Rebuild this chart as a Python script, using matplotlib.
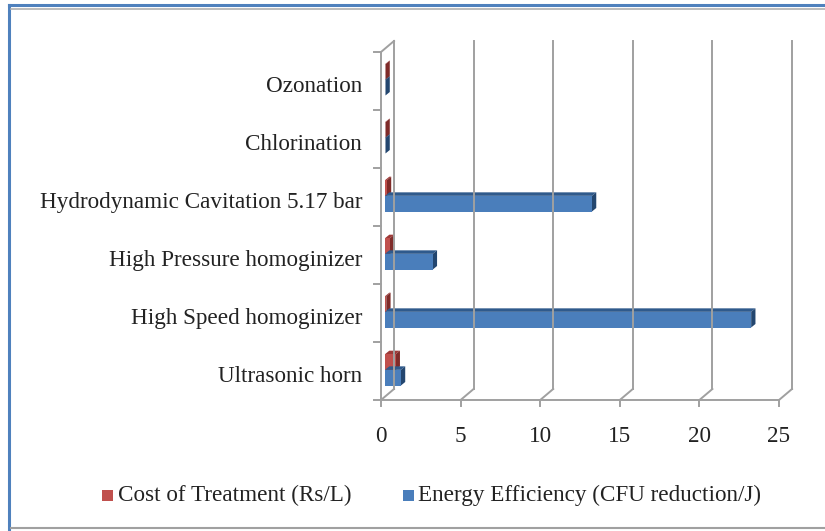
import numpy as np
import matplotlib.pyplot as plt
from matplotlib.patches import Polygon, Rectangle
from matplotlib.lines import Line2D

categories = ['Ultrasonic horn', 'High Speed homoginizer', 'High Pressure homoginizer',
              'Hydrodynamic Cavitation 5.17 bar', 'Chlorination', 'Ozonation']
cost = [0.67, 0.08, 0.31, 0.12, 0.03, 0.03]
energy = [1.0, 23.0, 3.0, 13.0, 0.03, 0.03]
xticks = [0, 5, 10, 15, 20, 25]
series_names = ['Cost of Treatment (Rs/L)', 'Energy Efficiency (CFU reduction/J)']

W, H = 825, 531
fig = plt.figure(figsize=(W / 100, H / 100), dpi=100)
# axes in pixel terms: x 0..25 spans 381..779, y spans 400..52
ax = fig.add_axes([381 / W, 1 - 400 / H, 398 / W, 348 / H])
ax.set_xlim(0, 25)
ax.set_ylim(-0.5, 5.5)
ax.axis('off')

pxx = 398 / 25.0   # pixels per x unit
pxy = 348 / 6.0    # pixels per category
DX, DY = 13 / pxx, 11 / pxy          # wall depth
bx, by = 4.3 / pxx, 3.5 / pxy        # bar depth
x0 = 4 / pxx                         # bars start a bit behind the front plane

grid = '#a0a0a0'
lw = 1.4
ylo, yhi = -0.5, 5.5
font = 'Liberation Serif'
fs = 16.7

# front axes and floor
ax.plot([0, 0], [ylo, yhi], color=grid, lw=lw, clip_on=False)
ax.plot([0, DX], [yhi, yhi + DY], color=grid, lw=lw, clip_on=False)
ax.plot([0, 25], [ylo, ylo], color=grid, lw=lw, clip_on=False)
for v in xticks:
    ax.plot([v, v + DX], [ylo, ylo + DY], color=grid, lw=lw, clip_on=False)
    ax.plot([v + DX, v + DX], [ylo + DY, yhi + DY], color=grid, lw=lw, clip_on=False)
    ax.plot([v, v], [ylo, ylo - 6 / pxy], color=grid, lw=lw, clip_on=False)
    ax.text(v, ylo - 37 / pxy, str(v), ha='center', va='center',
            fontsize=fs, family=font, color='#222222')
for b in np.arange(ylo, yhi + 0.01, 1):
    ax.plot([0, -7 / pxx], [b, b], color=grid, lw=lw, clip_on=False)

for i, name in enumerate(categories):
    ax.text(-19 / pxx, i - 0.1, name, ha='right', va='center',
            fontsize=fs, family=font, color='#222222')


def bar3d(x, y, w, h, front, side, top):
    ax.add_patch(Polygon([(x, y + h), (x + bx, y + h + by), (x + w + bx, y + h + by), (x + w, y + h)],
                         closed=True, fc=top, ec='none', clip_on=False))
    ax.add_patch(Polygon([(x + w, y), (x + w + bx, y + by), (x + w + bx, y + h + by), (x + w, y + h)],
                         closed=True, fc=side, ec='none', clip_on=False))
    ax.add_patch(Rectangle((x, y), w, h, fc=front, ec='none', clip_on=False))


bh = 0.27
for i in range(len(categories)):
    bar3d(x0, i + 0.02, cost[i], bh, '#c0504d', '#7f2b29', '#9e3a38')
    bar3d(x0, i - 0.25, energy[i], bh, '#4a7ebb', '#23466f', '#2f5a8c')

# legend
fig.patches.append(Rectangle((102 / W, 1 - 501 / H), 11 / W, 11 / H,
                             transform=fig.transFigure, fc='#c0504d', ec='none'))
fig.text(118 / W, 1 - 495 / H, series_names[0], ha='left', va='center',
         fontsize=fs, family=font, color='#222222')
fig.patches.append(Rectangle((403 / W, 1 - 501 / H), 11 / W, 11 / H,
                             transform=fig.transFigure, fc='#4a7ebb', ec='none'))
fig.text(418 / W, 1 - 495 / H, series_names[1], ha='left', va='center',
         fontsize=fs, family=font, color='#222222')

# chart frame
fig.lines.append(Line2D([9 / W, 9 / W], [0, 1 - 5 / H], transform=fig.transFigure, color='#4f81bd', lw=2.2))
fig.lines.append(Line2D([9 / W, 1], [1 - 5 / H, 1 - 5 / H], transform=fig.transFigure, color='#4f81bd', lw=2.2))
fig.lines.append(Line2D([11 / W, 1], [1 - 8.5 / H, 1 - 8.5 / H], transform=fig.transFigure, color='#b0b0b0', lw=1.2))
fig.lines.append(Line2D([11 / W, 1], [1 - 528 / H, 1 - 528 / H], transform=fig.transFigure, color='#a0a0a0', lw=1.5))

fig.savefig('out.png', dpi=100)
